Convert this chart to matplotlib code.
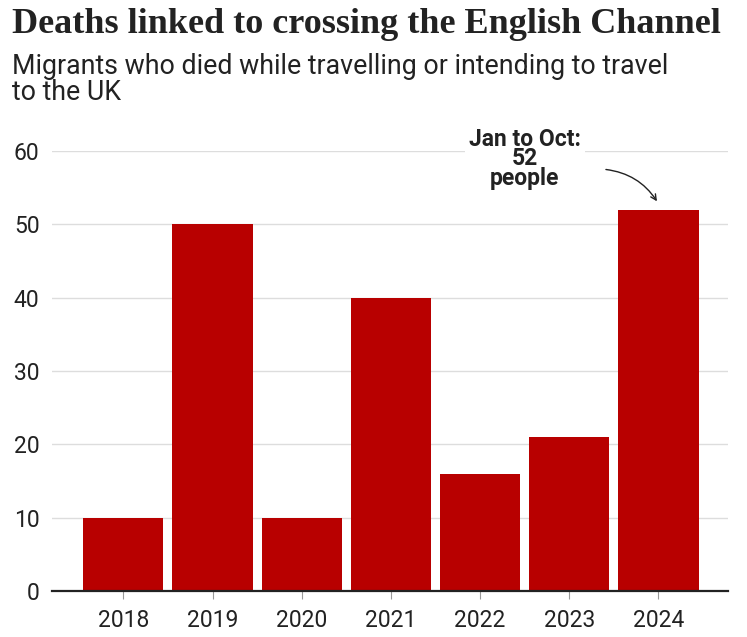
import matplotlib.pyplot as plt

# ───────── data ─────────
years = ['2018', '2019', '2020', '2021', '2022', '2023', '2024']
deaths = [10, 50, 10, 40, 16, 21, 52]
yticks = [0, 10, 20, 30, 40, 50, 60]

bar_color = '#b80000'
text_color = '#222222'

plt.rcParams['font.family'] = ['Roboto', 'DejaVu Sans']

fig = plt.figure(figsize=(7.47, 6.37), dpi=100)
ax = fig.add_axes([0.0696, 0.0722, 0.905, 0.691])

x = range(len(years))
ax.bar(x, deaths, width=0.9, color=bar_color, zorder=3)

ax.set_xlim(-0.8, 6.78)
ax.set_ylim(0, 60)
ax.set_yticks(yticks)
ax.set_xticks(list(x))
ax.set_xticklabels(years)

ax.grid(axis='y', color='#dddddd', linewidth=1, zorder=0)
for s in ['top', 'right', 'left']:
    ax.spines[s].set_visible(False)
ax.spines['bottom'].set_color(text_color)
ax.spines['bottom'].set_linewidth(1.6)
ax.spines['bottom'].set_zorder(4)

ax.tick_params(axis='y', length=0, pad=9, labelsize=16.5, labelcolor=text_color)
ax.tick_params(axis='x', length=6, color='#999999', pad=7, labelsize=16.5, labelcolor=text_color)

# annotation for 2024
ax.text(4.5, 58.9, 'Jan to Oct:\n52\npeople', ha='center', va='center',
        fontsize=16.5, fontweight='bold', color=text_color, linespacing=0.8,
        bbox=dict(facecolor='white', edgecolor='none', pad=3), zorder=5)
ax.annotate('', xy=(6.0, 52.8), xytext=(5.38, 57.5),
            arrowprops=dict(arrowstyle='->', color=text_color, lw=1,
                            connectionstyle='arc3,rad=-0.25'),
            annotation_clip=False, zorder=5)

fig.text(0.016, 0.988, 'Deaths linked to crossing the English Channel',
         fontsize=26, fontweight='bold', family='Liberation Serif',
         color=text_color, va='top')
fig.text(0.016, 0.917, 'Migrants who died while travelling or intending to travel\nto the UK',
         fontsize=19.3, color=text_color, va='top', linespacing=0.97)

fig.savefig('out.png', dpi=100)
